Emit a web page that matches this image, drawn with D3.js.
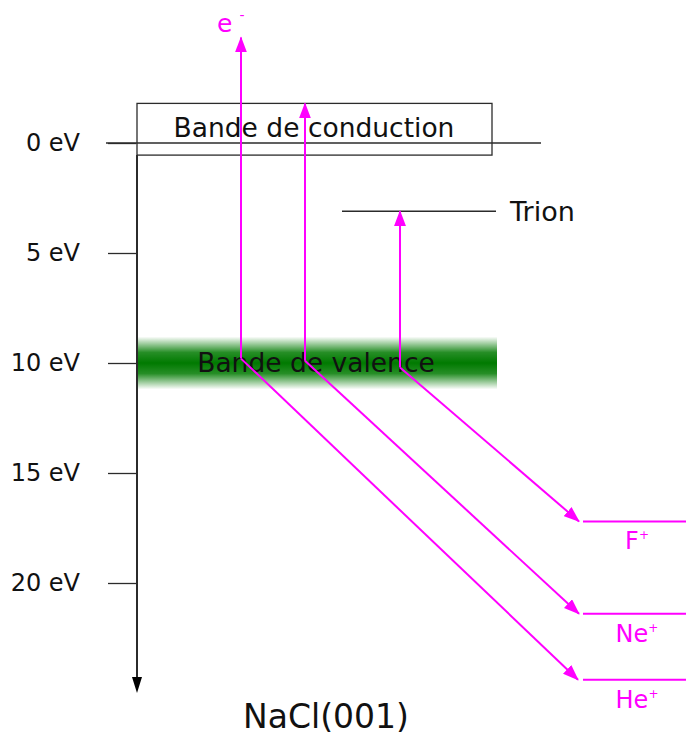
<!DOCTYPE html>
<html><head><meta charset="utf-8">
<script src="https://cdn.jsdelivr.net/npm/d3@7"></script>
<style>body{margin:0;background:#fff}svg{display:block}</style>
</head><body><svg id="c" width="686" height="737"></svg>
<script>
// ---- data (energies in eV, downward) ----
const tickValues = [0, 5, 10, 15, 20];
const tickLabels = ["0 eV", "5 eV", "10 eV", "15 eV", "20 eV"];
const conductionBand = [-1.8, 0.55];      // top / bottom of the label box
const conductionLabel = "Bande de conduction";
const valenceBand = [8.8, 11.2];          // gradient extent
const valenceLabel = "Bande de valence";
const trionEnergy = 3.1;
const trionLabel = "Trion";
const ionNames = ["F", "Ne", "He"];
const ionEnergies = [17.2, 21.4, 24.4];
const excitationStart = [9.8, 9.9, 10.2];  // bottom of vertical arrows
const excitationEnd = [-4.8, -1.8, 3.1];   // tips of vertical arrows
const electronLabel = "e";
const axisEnd = 25.0;
const title = "NaCl(001)";

// ---- layout ----
const svg = d3.select("#c");
const y = d3.scaleLinear().domain([0, 20]).range([143, 583]);
const x = d3.scaleLinear().domain([0, 686]).range([0, 686]);
const axisX = 137;
const arrowX = [241, 305, 400];
const ionLevelX = [583, 686];
const band = [137, 492];
const valX = [138, 497];
const trionX = [342, 496];
const magenta = "#ff00ff";
const dark = "#2b2b2b";
const font = "DejaVu Sans";

const defs = svg.append("defs");
const grad = defs.append("linearGradient").attr("id", "vg").attr("x1", 0).attr("x2", 0).attr("y1", 0).attr("y2", 1);
[[0, 0], [0.3, 0.85], [0.5, 1], [0.7, 0.85], [1, 0]].forEach(([o, a]) =>
  grad.append("stop").attr("offset", o).attr("stop-color", "#007a00").attr("stop-opacity", a));
defs.append("marker").attr("id", "ma").attr("viewBox", "0 0 16 12").attr("refX", 15).attr("refY", 6)
  .attr("markerWidth", 16).attr("markerHeight", 12).attr("markerUnits", "userSpaceOnUse").attr("orient", "auto")
  .append("path").attr("d", "M0,0 L16,6 L0,12 Z").attr("fill", magenta);

// valence band
svg.append("rect").attr("x", x(valX[0])).attr("width", x(valX[1]) - x(valX[0]))
  .attr("y", y(valenceBand[0])).attr("height", y(valenceBand[1]) - y(valenceBand[0])).attr("fill", "url(#vg)");
svg.append("text").attr("x", x(316)).attr("y", y(10) + 9).attr("text-anchor", "middle")
  .attr("font-family", font).attr("font-size", 26.5).attr("fill", "#111").text(valenceLabel);

// axis
const ax = svg.append("g").attr("transform", `translate(${axisX - 1},0)`)
  .call(d3.axisLeft(y).tickValues(tickValues).tickFormat((d, i) => tickLabels[i]).tickSize(28).tickPadding(28));
ax.select(".domain").remove();
ax.selectAll("line").attr("stroke", dark).attr("stroke-width", 1.3);
ax.selectAll("text").attr("font-family", font).attr("font-size", 24).attr("fill", "#111");
ax.select(".tick line").attr("x1", 0);
// zero line extended
svg.append("line").attr("x1", x(106)).attr("x2", x(541)).attr("y1", y(0)).attr("y2", y(0)).attr("stroke", dark).attr("stroke-width", 1.3);
// vertical axis arrow
svg.append("line").attr("x1", x(axisX)).attr("x2", x(axisX)).attr("y1", y(conductionBand[1])).attr("y2", y(axisEnd) - 10)
  .attr("stroke", dark).attr("stroke-width", 2);
svg.append("path").attr("d", `M${x(axisX) - 5},${y(axisEnd) - 16} L${x(axisX) + 5},${y(axisEnd) - 16} L${x(axisX)},${y(axisEnd)} Z`).attr("fill", "#000");

// conduction band box
svg.append("rect").attr("x", x(band[0])).attr("width", x(band[1]) - x(band[0]))
  .attr("y", y(conductionBand[0])).attr("height", y(conductionBand[1]) - y(conductionBand[0]))
  .attr("fill", "none").attr("stroke", dark).attr("stroke-width", 1.3);
svg.append("text").attr("x", x(314)).attr("y", y(0) - 6).attr("text-anchor", "middle")
  .attr("font-family", font).attr("font-size", 26.5).attr("fill", "#111").text(conductionLabel);

// trion level
svg.append("line").attr("x1", x(trionX[0])).attr("x2", x(trionX[1])).attr("y1", y(trionEnergy)).attr("y2", y(trionEnergy))
  .attr("stroke", dark).attr("stroke-width", 1.5);
svg.append("text").attr("x", x(510)).attr("y", y(trionEnergy) + 10).attr("font-family", font).attr("font-size", 27).attr("fill", "#111").text(trionLabel);

// ion levels
ionNames.forEach((n, i) => {
  svg.append("line").attr("x1", x(ionLevelX[0])).attr("x2", x(ionLevelX[1])).attr("y1", y(ionEnergies[i])).attr("y2", y(ionEnergies[i]))
    .attr("stroke", magenta).attr("stroke-width", 2);
  const t = svg.append("text").attr("x", x(637)).attr("y", y(ionEnergies[i]) + 28).attr("text-anchor", "middle")
    .attr("font-family", font).attr("font-size", 24).attr("fill", magenta);
  t.append("tspan").text(n);
  t.append("tspan").attr("font-size", 12).attr("dy", -10).text("+");
});

// excitation arrows (vertical) and de-excitation (diagonal)
excitationStart.forEach((e0, i) => {
  svg.append("line").attr("x1", x(arrowX[i])).attr("x2", x(arrowX[i])).attr("y1", y(e0)).attr("y2", y(excitationEnd[i]))
    .attr("stroke", magenta).attr("stroke-width", 2).attr("marker-end", "url(#ma)");
  svg.append("line").attr("x1", x(arrowX[i])).attr("y1", y(e0)).attr("x2", x(ionLevelX[0] - (i === 0 ? 5 : 4))).attr("y2", y(ionEnergies[2 - i]))
    .attr("stroke", magenta).attr("stroke-width", 2).attr("marker-end", "url(#ma)");
});

// electron label
const el = svg.append("text").attr("x", x(217)).attr("y", y(excitationEnd[0]) - 5)
  .attr("font-family", font).attr("font-size", 25).attr("fill", magenta);
el.append("tspan").text(electronLabel);
el.append("tspan").attr("font-size", 14).attr("dx", 7).attr("dy", -12).text("-");

// title
svg.append("text").attr("x", x(326)).attr("y", 728).attr("text-anchor", "middle")
  .attr("font-family", font).attr("font-size", 33).attr("fill", "#111").text(title);
</script></body></html>
